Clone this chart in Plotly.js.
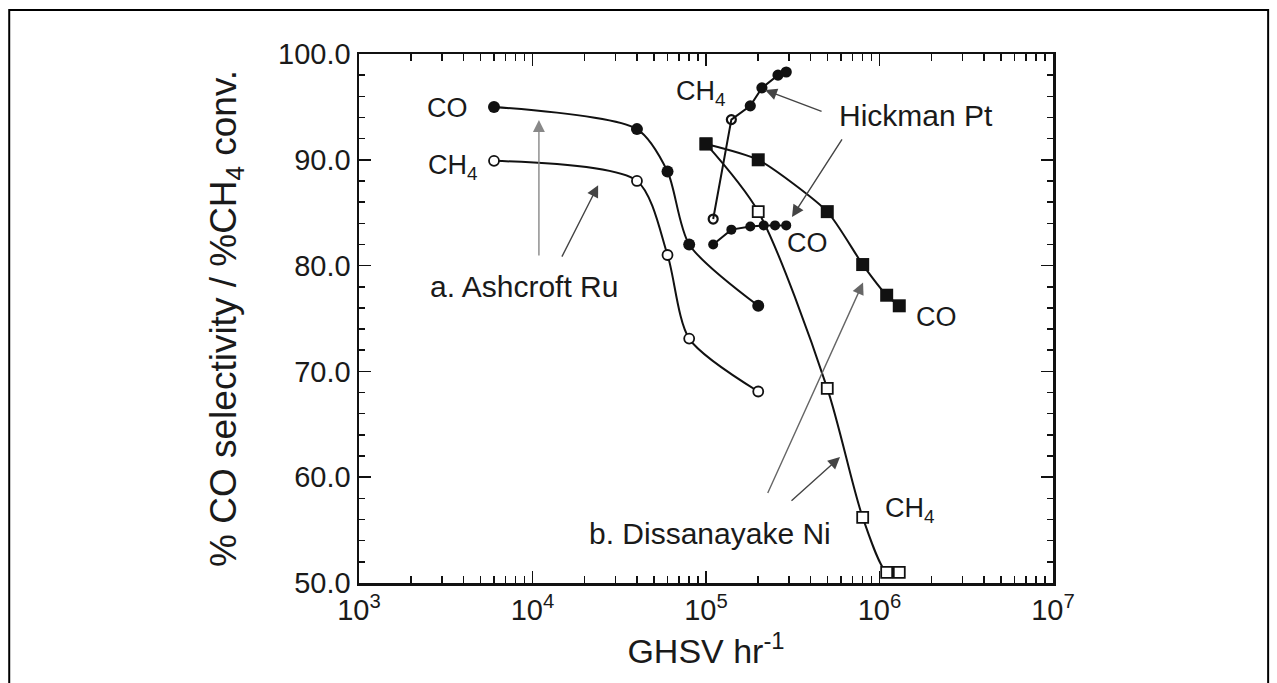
<!DOCTYPE html>
<html>
<head>
<meta charset="utf-8">
<script src="https://cdn.plot.ly/plotly-3.0.1.min.js"></script>
<style>html,body{margin:0;padding:0;background:#fff;}#chart{width:1277px;height:683px;}</style>
</head>
<body>
<div id="chart"></div>
<script>
// ---- data ----
const ashcroftGHSV = [6000, 40000, 60000, 80000, 200000];
const ashcroftCO   = [95.0, 92.9, 88.9, 82.0, 76.2];
const ashcroftCH4  = [89.9, 88.0, 81.0, 73.1, 68.1];

const hickmanCH4GHSV = [110000, 140000, 180000, 210000, 260000, 290000];
const hickmanCH4     = [84.4, 93.8, 95.1, 96.8, 98.0, 98.3];
const hickmanCOGHSV  = [110000, 140000, 180000, 215000, 250000, 290000];
const hickmanCO      = [82.0, 83.4, 83.7, 83.8, 83.8, 83.8];

const dissGHSV = [100000, 200000, 500000, 800000, 1100000, 1300000];
const dissCO   = [91.5, 90.0, 85.1, 80.1, 77.2, 76.2];
const dissCH4  = [91.5, 85.1, 68.4, 56.2, 51.0, 51.0];

const xDecades = [3, 4, 5, 6, 7];
const yTickVals = [50, 60, 70, 80, 90, 100];

// ---- ticks ----
const xTickVals = [], xTickText = [];
xDecades.forEach(d => {
  const top = d === 7 ? 1 : 9;
  for (let m = 1; m <= top; m++) {
    xTickVals.push(m * Math.pow(10, d));
    xTickText.push(m === 1 ? '10<sup>' + d + '</sup>' : '');
  }
});
const xMajorVals = xDecades.map(d => Math.pow(10, d));

const FONT = 'Liberation Sans, Arial, Helvetica, sans-serif';
const lineStyle = {color: '#111', width: 2};

const traces = [
  {x: ashcroftGHSV, y: ashcroftCO, mode: 'lines+markers', line: Object.assign({shape: 'spline', smoothing: 0.75}, lineStyle),
   marker: {symbol: 'circle', size: 12, color: '#111'}},
  {x: ashcroftGHSV, y: ashcroftCH4, mode: 'lines+markers', line: Object.assign({shape: 'spline', smoothing: 0.75}, lineStyle),
   marker: {symbol: 'circle', size: 10, color: '#fff', line: {color: '#111', width: 1.8}}},
  {x: hickmanCH4GHSV, y: hickmanCH4, mode: 'lines+markers', line: lineStyle,
   marker: {symbol: ['circle-open', 'circle-open', 'circle', 'circle', 'circle', 'circle'], size: 9, color: '#111', line: {color: '#111', width: 2.2}}},
  {x: hickmanCOGHSV, y: hickmanCO, mode: 'lines+markers', line: lineStyle,
   marker: {symbol: 'circle', size: 10, color: '#111'}},
  {x: dissGHSV, y: dissCH4, mode: 'lines+markers', line: Object.assign({shape: 'spline', smoothing: 0.8}, lineStyle),
   marker: {symbol: 'square', size: 11, color: '#fff', line: {color: '#111', width: 1.8}}},
  {x: dissGHSV, y: dissCO, mode: 'lines+markers', line: Object.assign({shape: 'spline', smoothing: 0.6}, lineStyle),
   marker: {symbol: 'square', size: 13, color: '#111'}},
  {x: xMajorVals, y: xMajorVals.map(() => 50), xaxis: 'x2', mode: 'markers', marker: {opacity: 0}, hoverinfo: 'skip'}
];

const L = Math.log10;
function label(text, gx, y, size, xanchor) {
  return {x: L(gx), y: y, xref: 'x', yref: 'y', text: text, showarrow: false,
          xanchor: xanchor || 'center', yanchor: 'middle', font: {family: FONT, size: size, color: '#1a1a1a'}};
}
function arrow(gx, y, ax, ay, color) {
  return {x: L(gx), y: y, xref: 'x', yref: 'y', text: '', showarrow: true, ax: ax, ay: ay,
          arrowhead: 2, arrowsize: 1.7, arrowwidth: 1.4, arrowcolor: color || '#444'};
}

const annotations = [
  label('CO', 3220, 94.9, 27),
  label('CH<sub>4</sub>', 3480, 89.3, 27),
  label('CH<sub>4</sub>', 93500, 96.3, 27),
  label('Hickman Pt', 570000, 94.2, 30, 'left'),
  label('CO', 387000, 82.1, 27),
  label('CO', 2140000, 75.1, 27),
  label('a. Ashcroft Ru', 8930, 78.0, 30),
  label('b. Dissanayake Ni', 540000, 54.7, 30, 'right'),
  label('CH<sub>4</sub>', 1047000, 56.9, 27, 'left'),
  arrow(10890, 93.76, 0, 137, '#888'),
  arrow(23900, 87.6, -37, 73),
  arrow(219000, 96.6, 58, 22),
  arrow(313000, 84.6, 51, -79),
  arrow(804000, 78.4, -96, 212, '#666'),
  arrow(592000, 61.9, -50, 45)
];

const layout = {
  width: 1277, height: 683,
  margin: {l: 359, r: 224, t: 54, b: 100},
  paper_bgcolor: '#fff', plot_bgcolor: '#fff',
  showlegend: false,
  font: {family: FONT, color: '#1a1a1a'},
  xaxis: {
    type: 'log', range: [3, 7], tickmode: 'array', tickvals: xTickVals, ticktext: xTickText,
    ticks: 'inside', ticklen: 7, tickwidth: 1.5, tickcolor: '#111',
    showline: true, linecolor: '#111', linewidth: 2.5, mirror: 'ticks', showgrid: false, zeroline: false,
    tickfont: {family: FONT, size: 29, color: '#1a1a1a'},
    title: {text: 'GHSV hr<sup>-1</sup>', font: {family: FONT, size: 34, color: '#1a1a1a'}, standoff: 14}
  },
  xaxis2: {
    type: 'log', range: [3, 7], overlaying: 'x', side: 'bottom', tickmode: 'array', tickvals: xMajorVals,
    ticks: 'inside', ticklen: 12, tickwidth: 1.5, tickcolor: '#111', showticklabels: false,
    showline: false, mirror: 'ticks', showgrid: false, zeroline: false
  },
  yaxis: {
    range: [50, 100], tickmode: 'array', tickvals: yTickVals, tickformat: '.1f',
    ticks: 'inside', ticklen: 12, tickwidth: 1.5, tickcolor: '#111',
    minor: {dtick: 2, ticks: 'inside', ticklen: 6, tickwidth: 1.5, tickcolor: '#111', showgrid: false},
    showline: true, linecolor: '#111', linewidth: 2.5, mirror: 'ticks', showgrid: false, zeroline: false,
    tickfont: {family: FONT, size: 29, color: '#1a1a1a'},
    title: {text: '% CO selectivity / %CH<sub>4</sub> conv.', font: {family: FONT, size: 37, color: '#1a1a1a'}, standoff: 30}
  },
  annotations: annotations,
  shapes: [
    {type: 'rect', xref: 'paper', yref: 'paper', x0: -0.504, x1: 1.31, y0: -0.3, y1: 1.083,
     line: {color: '#000', width: 2}, fillcolor: 'rgba(0,0,0,0)'}
  ]
};

Plotly.newPlot('chart', traces, layout, {staticPlot: true});
</script>
</body>
</html>
